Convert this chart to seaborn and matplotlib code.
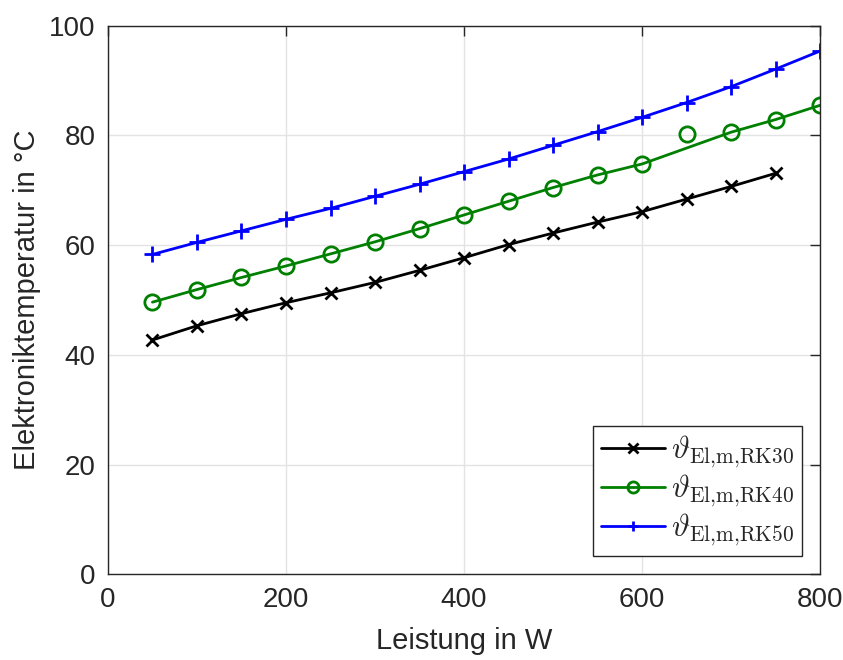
import matplotlib
matplotlib.use('Agg')
import matplotlib.pyplot as plt
from matplotlib.lines import Line2D
import numpy as np
import pandas as pd
import seaborn as sns

# Measured values
leistung = [50, 100, 150, 200, 250, 300, 350, 400, 450, 500, 550, 600, 650, 700, 750, 800]
rk30 = [42.7, 45.3, 47.5, 49.5, 51.3, 53.2, 55.4, 57.7, 60.1, 62.2, 64.2, 66.1, 68.4, 70.7, 73.1]
rk40 = [49.6, 51.9, 54.1, 56.2, 58.4, 60.6, 63.0, 65.5, 68.0, 70.5, 72.8, 74.8, 80.2, 80.6, 82.9, 85.5]
rk50 = [58.3, 60.5, 62.6, 64.7, 66.7, 68.9, 71.1, 73.4, 75.7, 78.2, 80.7, 83.3, 86.0, 88.9, 92.1, 95.4]
# the RK40 line skips the outlier at 650 W
rk40_outlier = 650

series = [
    ('RK30', rk30, 'black', 'x'),
    ('RK40', rk40, 'green', 'o'),
    ('RK50', rk50, 'blue', '+'),
]

sns.set_style('white')
plt.rcParams['font.family'] = ['Liberation Sans', 'DejaVu Sans']
plt.rcParams['mathtext.fontset'] = 'cm'

fig = plt.figure(figsize=(8.43, 6.6), dpi=100)
ax = fig.add_axes([0.128, 0.130, 0.845, 0.831])

handles = []
for name, vals, color, mk in series:
    df = pd.DataFrame({'x': leistung[:len(vals)], 'y': vals})
    line_df = df[~((name == 'RK40') & (df['x'] == rk40_outlier))]
    sns.lineplot(data=line_df, x='x', y='y', color=color, linewidth=2, ax=ax)
    ms = {'o': 11, 'x': 8, '+': 11}[mk]
    ax.plot(df['x'], df['y'], linestyle='none', marker=mk, color=color,
            markersize=ms, markerfacecolor='none', markeredgewidth=2)
    handles.append(Line2D([0], [0], color=color, linewidth=2, marker=mk,
                          markersize=8 if mk == 'o' else 7, markerfacecolor='none',
                          markeredgewidth=2,
                          label=r'$\vartheta_{\mathrm{El{,}m{,}' + name + '}}$'))

ax.set_xlim(0, 800)
ax.set_ylim(0, 100)
ax.set_xticks([0, 200, 400, 600, 800])
ax.set_yticks([0, 20, 40, 60, 80, 100])
ax.grid(True, color='#e3e3e3', linewidth=1)
ax.set_axisbelow(True)
for sp in ax.spines.values():
    sp.set_color('#262626')
    sp.set_linewidth(1)
    sp.set_visible(True)
ax.tick_params(direction='in', length=7, width=1, color='#262626',
               top=True, right=True, labelsize=20, labelcolor='#262626', pad=9)
ax.set_xlabel('Leistung in W', fontsize=21, color='#262626', labelpad=10)
ax.set_ylabel('Elektroniktemperatur in °C', fontsize=21, color='#262626', labelpad=6)

leg = ax.legend(handles=handles, loc='lower right', fontsize=22, fancybox=False,
                framealpha=1, edgecolor='#262626', borderpad=0.25, handlelength=2.1,
                labelspacing=0.1, handletextpad=0.2, borderaxespad=0.6)
leg.get_frame().set_linewidth(1)

fig.savefig('out.png', dpi=100)
